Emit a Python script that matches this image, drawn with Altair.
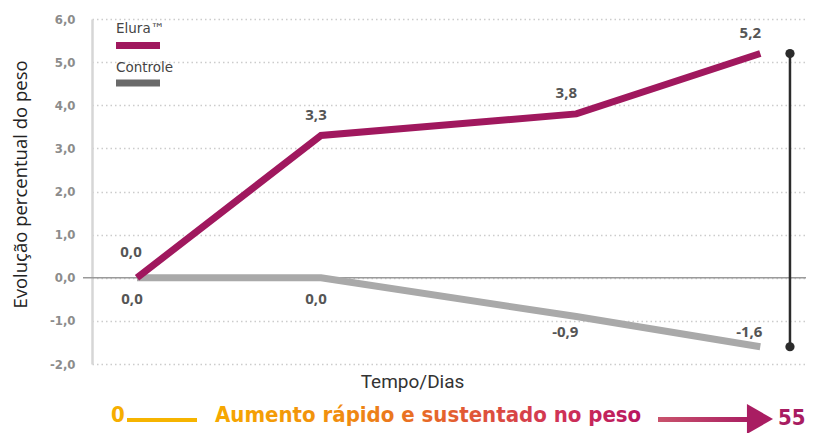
import altair as alt
import pandas as pd

# ---- data ----
dias = [0, 15.5, 37, 52.5]
elura = [0.0, 3.3, 3.8, 5.2]
controle = [0.0, 0.0, -0.9, -1.6]
series = ["Elura™", "Controle"]
dia_final = 55
y_ticks = [-2, -1, 0, 1, 2, 3, 4, 5, 6]
rodape = ["0", "Aumento rápido e sustentado no peso", "55"]

df = pd.DataFrame({
    "dia": dias * 2,
    "valor": elura + controle,
    "serie": [series[0]] * len(dias) + [series[1]] * len(dias),
    "i": list(range(len(dias))) * 2,
})

ELURA = "#a0185e"
CTRL = "#a9a9a9"
LABEL_FONT = "Open Sans"
DIN = "DejaVu Sans Condensed"

x_scale = alt.Scale(domain=[-3.79, 56.35], nice=False, zero=False)
y_scale = alt.Scale(domain=[-2, 6], nice=False, zero=False)

fmt = "(datum.value < 0 ? '-' : '') + replace(format(abs(datum.value), '.1f'), '.', ',')"
y_axis = alt.Axis(
    title="Evolução percentual do peso", values=y_ticks, labelExpr=fmt,
    domain=True, domainColor="#d6d6d6", domainWidth=2.5,
    ticks=False, grid=True, gridColor="#cccccc", gridDash=[1.5, 3], gridWidth=1.5,
    labelPadding=17, labelFont=DIN, labelFontWeight="bold", labelFontSize=13,
    labelColor="#8c8c8c",
    titleFont="Open Sans", titleFontSize=18.5, titleFontWeight="normal",
    titleColor="#222222", titleX=-72, titleY=165, titleBaseline="middle",
)
x_axis = alt.Axis(
    title="Tempo/Dias", labels=False, ticks=False, domain=False, grid=False,
    titleX=320, titleY=17, titleBaseline="middle", titleAlign="center",
    titleFont="Roboto", titleFontSize=19, titleFontWeight="normal", titleColor="#333",
)

X = alt.X("dia:Q", scale=x_scale, axis=x_axis)
Y = alt.Y("valor:Q", scale=y_scale, axis=y_axis)

base = alt.Chart(df)

zero = alt.Chart(alt.Data(values=[{"valor": 0}])).mark_rule(
    color="#9a9a9a", strokeWidth=1.5
).encode(y=Y, x=alt.value(-9), x2=alt.value(714))

line_c = base.transform_filter(alt.datum.serie == series[1]).mark_line(
    color=CTRL, strokeWidth=7, strokeCap="butt"
).encode(x=X, y=Y, order="dia:Q")
line_e = base.transform_filter(alt.datum.serie == series[0]).mark_line(
    color=ELURA, strokeWidth=7, strokeCap="butt"
).encode(x=X, y=Y, order="dia:Q")

lab_expr = "(datum.valor < 0 ? '-' : '') + replace(format(abs(datum.valor), '.1f'), '.', ',')"


def labels(serie, idxs, dx, dy):
    cond = f"datum.serie == '{serie}' && indexof({list(idxs)}, datum.i) >= 0"
    return base.transform_filter(cond).transform_calculate(lab=lab_expr).mark_text(
        font=LABEL_FONT, fontWeight="bold", fontSize=15, color="#555555",
        dx=dx, dy=dy, baseline="middle", align="center",
    ).encode(x=X, y=Y, text="lab:N")


labs = [
    labels(series[0], [0], -6, -26),
    labels(series[0], [1], -5, -20),
    labels(series[0], [2, 3], -10, -21),
    labels(series[1], [0, 1], -5, 21),
    labels(series[1], [2], -11, 15),
    labels(series[1], [3], -11, -15),
]

bracket = alt.Chart(alt.Data(values=[{"dia": dia_final, "valor": elura[-1], "fim": controle[-1]}])).mark_rule(
    color="#2b2b2b", strokeWidth=2.5
).encode(x=X, y=Y, y2="fim:Q")
bracket_pts = alt.Chart(alt.Data(values=[
    {"dia": dia_final, "valor": elura[-1]}, {"dia": dia_final, "valor": controle[-1]}
])).mark_circle(size=85, color="#2b2b2b", opacity=1).encode(x=X, y=Y)

one = alt.Data(values=[{"k": 0}])


def txt(text, x, y, **kw):
    return alt.Chart(one).mark_text(text=text, align="left", baseline="alphabetic", **kw).encode(
        x=alt.value(x), y=alt.value(y))


def hrule(x1, x2, y, color, w):
    return alt.Chart(one).mark_rule(color=color, strokeWidth=w, strokeCap="butt").encode(
        x=alt.value(x1), x2=alt.value(x2), y=alt.value(y))


legend = [
    txt(series[0], 24, 14, font="DejaVu Sans", fontSize=13.5, color="#444"),
    hrule(24, 68, 26.5, ELURA, 7),
    txt(series[1], 24, 53, font="DejaVu Sans", fontSize=13.5, color="#444"),
    hrule(24, 68, 64, "#6a6a6a", 7),
]

grad_text = alt.Gradient(
    gradient="linear", x1=0, x2=1, y1=0, y2=0,
    stops=[
        alt.GradientStop(offset=0, color="#f6a800"),
        alt.GradientStop(offset=0.3, color="#f08c10"),
        alt.GradientStop(offset=0.55, color="#e4602f"),
        alt.GradientStop(offset=0.8, color="#d03455"),
        alt.GradientStop(offset=1, color="#b8165f"),
    ],
)
grad_arrow = alt.Gradient(
    gradient="linear", x1=0, x2=1, y1=0, y2=0,
    stops=[
        alt.GradientStop(offset=0, color="#c9536c"),
        alt.GradientStop(offset=1, color="#a91d62"),
    ],
)

footer = [
    txt(rodape[0], 19, 403, font=DIN, fontWeight="bold", fontSize=22, color="#f6ae00"),
    alt.Chart(one).mark_rect(color="#f6b400").encode(
        x=alt.value(35), x2=alt.value(105), y=alt.value(399), y2=alt.value(403)),
    txt(rodape[1], 123, 403, font=DIN, fontWeight="bold", fontSize=22, color=grad_text),
    alt.Chart(one).mark_rect(color=grad_arrow).encode(
        x=alt.value(566), x2=alt.value(660), y=alt.value(398), y2=alt.value(403)),
    alt.Chart(one).mark_point(
        shape="M-0.87,-1L0.87,0L-0.87,1Z", size=900, filled=True, opacity=1, color="#a91d62"
    ).encode(x=alt.value(668), y=alt.value(400)),
    txt(rodape[2], 686, 406, font=DIN, fontWeight="bold", fontSize=22, color="#a81c62"),
]

chart = alt.layer(
    zero, line_c, line_e, *labs, bracket, bracket_pts, *legend, *footer
).properties(
    width=714, height=345,
    autosize=alt.AutoSizeParams(type="none"),
    padding={"left": 84, "top": 11, "right": 2, "bottom": 69},
    background="white",
).configure_view(stroke=None)

chart.save("out.html", embed_options={"renderer": "svg", "actions": False})
